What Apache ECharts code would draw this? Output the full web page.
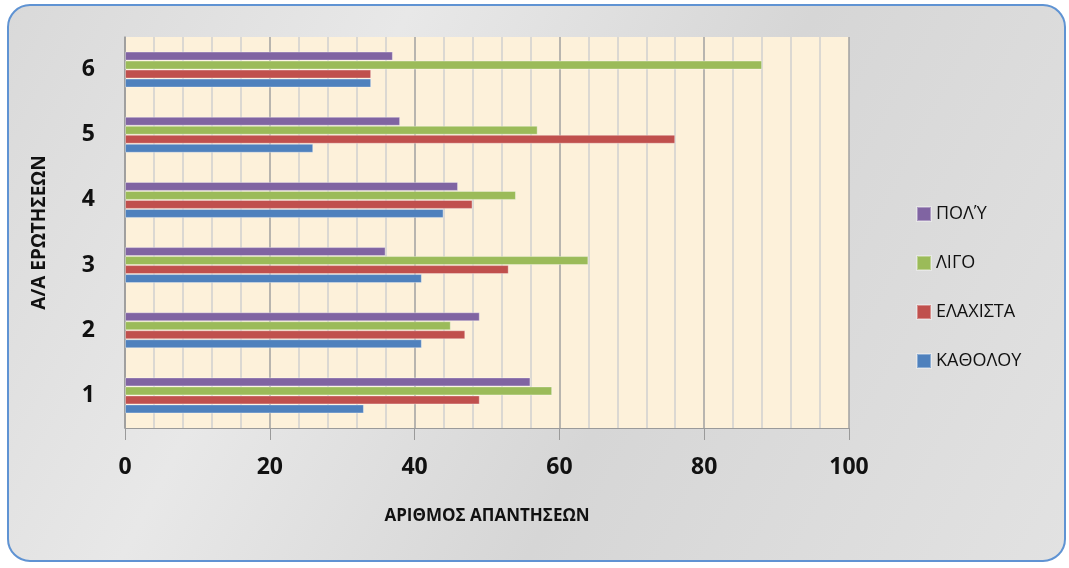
<!DOCTYPE html>
<html>
<head>
<meta charset="utf-8">
<script src="https://cdn.jsdelivr.net/npm/echarts@6/dist/echarts.min.js"></script>
<style>
  html, body { margin: 0; padding: 0; background: #ffffff; }
  #chart { width: 1069px; height: 568px; }
</style>
</head>
<body>
<div id="chart"></div>
<script>
// Ερωτήσεις (άξονας y)
const categories = ['1', '2', '3', '4', '5', '6'];

// Τιμές ανά απάντηση
const katholou = [33, 41, 41, 44, 26, 34];
const elaxista = [49, 47, 53, 48, 76, 34];
const ligo = [59, 45, 64, 54, 57, 88];
const poly = [56, 49, 36, 46, 38, 37];

const seriesNames = ['ΚΑΘΟΛΟΥ', 'ΕΛΑΧΙΣΤΑ', 'ΛΙΓΟ', 'ΠΟΛΎ'];
const colors = ['#4f81bd', '#c0504d', '#9bbb59', '#8064a2'];

const chart = echarts.init(document.getElementById('chart'));

const font = '"Open Sans", "Noto Sans", sans-serif';

const makeSeries = (name, data, color) => ({
  name: name,
  type: 'bar',
  data: data,
  barWidth: 9,
  barGap: '0%',
  itemStyle: { color: color, borderColor: 'rgba(255,255,255,0.35)', borderWidth: 1 }
});

const options = {
  backgroundColor: '#ffffff',
  animation: false,
  textStyle: { fontFamily: font },
  graphic: [
    {
      type: 'rect',
      z: -10,
      shape: { x: 8, y: 5, width: 1057, height: 556, r: 22 },
      style: {
        fill: new echarts.graphic.LinearGradient(0, 0, 1, 1, [
          { offset: 0, color: '#d9d9d9' },
          { offset: 0.3, color: '#e8e8e8' },
          { offset: 0.6, color: '#d6d6d6' },
          { offset: 1, color: '#e2e2e2' }
        ]),
        stroke: '#5f93d3',
        lineWidth: 2
      }
    }
  ],
  legend: {
    orient: 'vertical',
    left: 911,
    top: 200,
    itemWidth: 14,
    itemHeight: 14,
    itemGap: 31,
    icon: 'rect',
    data: ['ΠΟΛΎ', 'ΛΙΓΟ', 'ΕΛΑΧΙΣΤΑ', 'ΚΑΘΟΛΟΥ'],
    textStyle: { fontSize: 18, color: '#111', fontFamily: font }
  },
  grid: {
    left: 125,
    right: 220,
    top: 37,
    bottom: 140,
    show: true,
    backgroundColor: '#fdf1da',
    borderWidth: 0
  },
  xAxis: {
    type: 'value',
    min: 0,
    max: 100,
    interval: 20,
    name: 'ΑΡΙΘΜΟΣ ΑΠΑΝΤΗΣΕΩΝ',
    nameLocation: 'middle',
    nameGap: 80,
    nameTextStyle: { fontSize: 17, fontWeight: 'bold', color: '#111' },
    axisLine: { show: true, lineStyle: { color: '#9a9a9a', width: 1 } },
    axisTick: { show: true, length: 12, lineStyle: { color: '#9a9a9a' } },
    axisLabel: { fontSize: 23, fontWeight: 'bold', color: '#111', margin: 28 },
    splitLine: { show: true, lineStyle: { color: '#a0a0a0', width: 1.5 } },
    minorTick: { show: false, splitNumber: 5 },
    minorSplitLine: { show: true, lineStyle: { color: '#cfcfcf', width: 1.5 } }
  },
  yAxis: {
    type: 'category',
    data: categories,
    name: 'Α/Α ΕΡΩΤΗΣΕΩΝ',
    nameLocation: 'middle',
    nameGap: 76,
    nameRotate: 90,
    nameTextStyle: { fontSize: 19, fontWeight: 'bold', color: '#111' },
    axisLine: { show: true, lineStyle: { color: '#9a9a9a', width: 1.5 } },
    axisTick: { show: false },
    axisLabel: { fontSize: 23, fontWeight: 'bold', color: '#111', margin: 30 },
    splitLine: { show: false }
  },
  // πρώτη σειρά = πάνω μπάρα σε κάθε ομάδα
  series: [
    makeSeries(seriesNames[3], poly, colors[3]),
    makeSeries(seriesNames[2], ligo, colors[2]),
    makeSeries(seriesNames[1], elaxista, colors[1]),
    makeSeries(seriesNames[0], katholou, colors[0])
  ]
};

chart.setOption(options);

window.addEventListener('resize', () => {
  chart.resize();
});
</script>
</body>
</html>
